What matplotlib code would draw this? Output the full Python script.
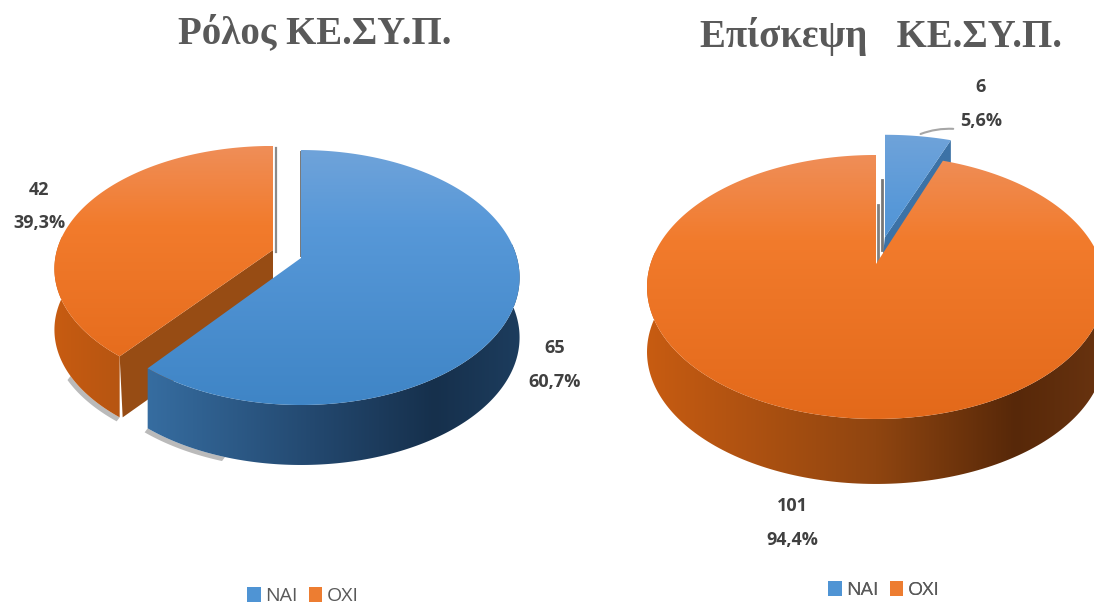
import numpy as np
import matplotlib
matplotlib.use("Agg")
import matplotlib.pyplot as plt
from matplotlib.colors import LinearSegmentedColormap as LSC
from matplotlib.patches import Polygon, Patch

# ---- data ----
categories = ["ΝΑΙ", "ΟΧΙ"]
role_values = [65, 42]
visit_values = [6, 101]
role_title = "Ρόλος ΚΕ.ΣΥ.Π."
visit_title = "Επίσκεψη   ΚΕ.ΣΥ.Π."

# ---- styles ----
TOP = {0: [(0, "#6FA3DA"), (.3, "#5798D8"), (1, "#3F85C6")],
       1: [(0, "#EF8E58"), (.32, "#F27B2C"), (1, "#E3691A")]}
SIDE_LEFT = {0: [(0, "#3E7CB5"), (.55, "#22466C"), (.8, "#16304C"), (1, "#1D3D5E")],
             1: [(0, "#C85C12"), (.5, "#8F4510"), (.8, "#572809"), (1, "#6A3410")]}
WALL = {0: "#2F6AA0", 1: "#974C14"}
TEXT = "#404040"
LABEL_FONT = ["Open Sans", "DejaVu Sans"]

fig = plt.figure(figsize=(10.94, 6.04), dpi=100)
ax = fig.add_axes([0, 0, 1, 1])
ax.set_xlim(0, 1094)
ax.set_ylim(604, 0)
ax.axis("off")


def project(theta, geo, drop=0.0):
    """Project a disc angle (clockwise from top, radians) with perspective."""
    X, Y = np.sin(theta), np.cos(theta)
    s = 1 / (1 + geo["k"] * Y)
    return geo["cx"] + geo["a"] * X * s, geo["cy"] - geo["b"] * Y * s + drop


def grad_fill(verts, colors, vertical, z, extent):
    cmap = LSC.from_list("g", colors)
    g = np.linspace(0, 1, 256)
    g = g[:, None] if vertical else g[None, :]
    im = ax.imshow(g, cmap=cmap, extent=extent, aspect="auto", zorder=z,
                   interpolation="bilinear", origin="upper")
    clip = Polygon(verts, closed=True, transform=ax.transData, fc="none", ec="none")
    ax.add_patch(clip)
    im.set_clip_path(clip)
    ax.set_xlim(0, 1094)
    ax.set_ylim(604, 0)


def wedge(t0, t1, idx, geo, z, show_side=True, show_end_wall=True, shadow=True):
    th = np.linspace(t0, t1, 300)
    d = geo["d"]
    x, y = project(th, geo)
    x2, y2 = project(th, geo, d)
    left, right = geo["cx"] - geo["a"] * 1.03, geo["cx"] + geo["a"] * 1.03
    cx, cy = geo["cx"], geo["cy"]
    if show_side:
        front = np.cos(th) < 0.12
        sx, sy = x[front], y[front]
        bx, by = x2[front], y2[front]
        if shadow:
            # soft contact shadow near the cut edge only
            ang = th[front]
            low = (np.cos(ang) < -0.5) & (np.sin(ang) < -0.3)
            rim = np.c_[bx[low], by[low]]
            v = np.r_[rim, (rim + [-3, 4])[::-1]]
            ax.add_patch(Polygon(v, closed=True, fc="#8C8C8C", ec="none",
                                 alpha=.6, zorder=z - .5))
    if show_end_wall:
        ex, ey = project(t0, geo)
        v = [(cx, cy), (ex, ey), (ex + 3, ey + d), (cx, cy + d)]
        ax.add_patch(Polygon(v, closed=True, fc=WALL[idx], ec="none", zorder=z))
    if show_side:
        v = np.r_[np.c_[sx, sy], np.c_[bx, by][::-1]]
        grad_fill(v, SIDE_LEFT[idx], False, z + .1, (left, right, 604, 0))
    v = np.r_[[[cx, cy]], np.c_[x, y]]
    top = cy - geo["b"] / (1 + geo["k"])
    bot = cy + geo["b"] / (1 - geo["k"])
    grad_fill(v, TOP[idx], True, z + .2, (left, right, bot, top))


TWO_PI = 2 * np.pi

# ---- left pie ----
a0 = TWO_PI * role_values[0] / sum(role_values)
wedge(a0, TWO_PI, 1,
      dict(cx=273, cy=250, a=216, b=120, k=.153, d=61), z=2)
wedge(0, a0, 0,
      dict(cx=301, cy=258, a=216, b=124.5, k=.153, d=60), z=4, show_end_wall=False)
ax.plot([275.5, 275.5], [148, 252], color="#8A8A8A", lw=1.6, zorder=1.5)
ax.plot([301, 301], [152, 256], color="#777777", lw=1.4, zorder=1.5)

# ---- right pie ----
a1 = TWO_PI * visit_values[0] / sum(visit_values)
geo_o = dict(cx=876, cy=264, a=225.5, b=128, k=.174, d=65)
geo_b = dict(cx=885, cy=237, a=222, b=120, k=.174, d=20)
ax.plot([882, 882], [180, 250], color="#777777", lw=2, zorder=1.5)
ax.plot([877.5, 877.5], [205, 262], color="#808080", lw=2, zorder=1.5)
wedge(0, a1, 0, geo_b, z=2, show_side=False, show_end_wall=False)
ex, ey = project(a1, geo_b)
ax.add_patch(Polygon([(885, 237), (ex, ey), (ex, ey + 26), (883, 254)], closed=True,
                     fc="#3C72A6", ec="none", zorder=2.1))
wedge(a1, TWO_PI, 1, geo_o, z=4, show_end_wall=False, shadow=False)

# ---- leader line ----
ax.annotate("", xy=(918, 135), xytext=(956, 129),
            arrowprops=dict(arrowstyle="-", color="#A6A6A6", lw=1.5,
                            connectionstyle="arc3,rad=0.12"), zorder=6)


def labels(values, spots):
    total = sum(values)
    for v, (x, y1, y2) in zip(values, spots):
        pct = f"{100 * v / total:.1f}".replace(".", ",") + "%"
        ax.text(x, y1, str(v), ha="center", va="center", fontsize=13, fontweight="bold",
                family=LABEL_FONT, color=TEXT, zorder=8)
        ax.text(x, y2, pct, ha="center", va="center", fontsize=13, fontweight="bold",
                family=LABEL_FONT, color=TEXT, zorder=8)


labels(role_values, [(555, 348, 382), (39, 190, 223)])
labels(visit_values, [(981, 87, 121), (792, 506, 540)])

# ---- titles ----
for title, x, y in [(role_title, 315, 34), (visit_title, 881, 37)]:
    ax.text(x, y, title, ha="center", va="center", fontsize=28, fontweight="bold",
            family=["Liberation Serif", "DejaVu Serif"], color="#595959", zorder=8)

# ---- legends ----
for x, y in [(303, 596), (884, 590)]:
    h = [Patch(fc="#4F94D4"), Patch(fc="#ED7D31")]
    leg = ax.legend(h, categories, loc="center", bbox_to_anchor=(x, y),
                    bbox_transform=ax.transData, ncol=2, frameon=False,
                    handlelength=.7, handleheight=.8, handletextpad=.25,
                    columnspacing=.55, borderpad=0, labelcolor="#595959",
                    prop=dict(family=LABEL_FONT, size=14))
    ax.add_artist(leg)

fig.savefig("out.png", dpi=100, facecolor="white")
